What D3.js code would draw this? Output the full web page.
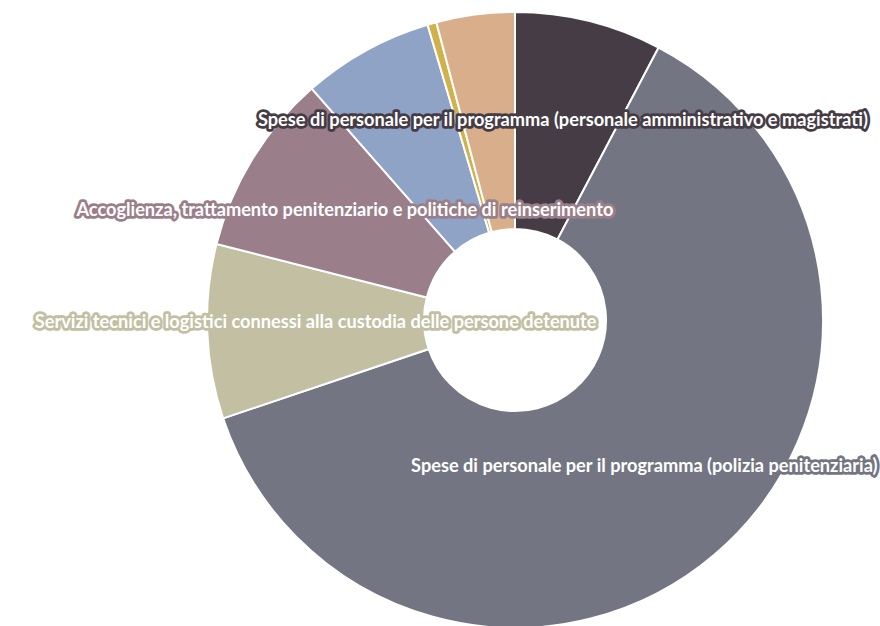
<!DOCTYPE html>
<html>
<head>
<meta charset="utf-8">
<script src="https://cdn.jsdelivr.net/npm/d3@7"></script>
<style>
html,body{margin:0;padding:0;background:#fff;}
svg{display:block;}
</style>
</head>
<body>
<svg id="chart" width="880" height="626"></svg>
<script>
const categories = [
  "Spese di personale per il programma (personale amministrativo e magistrati)",
  "Spese di personale per il programma (polizia penitenziaria)",
  "Servizi tecnici e logistici connessi alla custodia delle persone detenute",
  "Accoglienza, trattamento penitenziario e politiche di reinserimento",
  "Altro (1)",
  "Altro (2)",
  "Altro (3)"
];
const values = [7.72, 62.1, 9.14, 9.56, 6.89, 0.47, 4.11];
const showLabel = [true, true, true, true, false, false, false];
const colors = ["#463c45", "#737682", "#c2bfa3", "#9a7f8a", "#8ea3c6", "#d1b24a", "#d8ae8b"];

const svg = d3.select("#chart");
const cx = 515, cy = 320, R = 308, r0 = 91;
const g = svg.append("g").attr("transform", `translate(${cx},${cy})`);

const data = categories.map((c, i) => ({name: c, value: values[i], color: colors[i], show: showLabel[i]}));
const pie = d3.pie().sort(null).value(d => d.value);
const arcs = pie(data);
const arc = d3.arc().innerRadius(r0).outerRadius(R);

g.selectAll("path").data(arcs).join("path")
  .attr("d", arc)
  .attr("fill", d => d.data.color)
  .attr("stroke", "#fff")
  .attr("stroke-width", 2);

g.selectAll("text").data(arcs.filter(d => d.data.show)).join("text")
  .attr("x", d => arc.centroid(d)[0])
  .attr("y", d => arc.centroid(d)[1])
  .attr("text-anchor", "middle")
  .attr("font-family", "Lato, 'Noto Sans', sans-serif")
  .attr("font-weight", "bold")
  .attr("font-size", 18.2)
  .attr("fill", "#fff")
  .attr("stroke", d => d.data.color)
  .attr("stroke-width", 5.5)
  .attr("stroke-linejoin", "round")
  .attr("paint-order", "stroke")
  .text(d => d.data.name);
</script>
</body>
</html>
